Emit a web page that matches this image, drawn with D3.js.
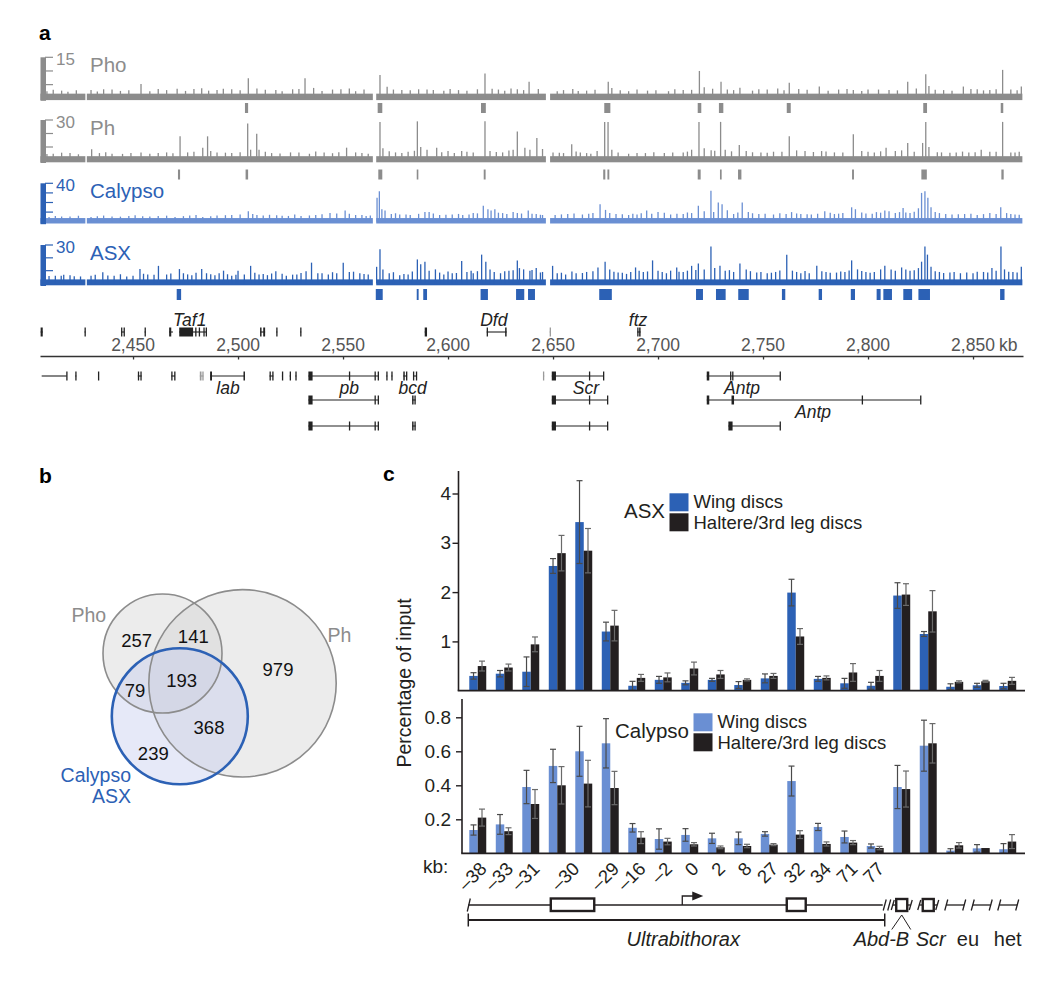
<!DOCTYPE html>
<html><head><meta charset="utf-8">
<script src="https://cdn.jsdelivr.net/npm/d3@7/dist/d3.min.js"></script>
<style>
body{margin:0;background:#fff}
svg{display:block}
text{font-family:"Liberation Sans",Arial,Helvetica,sans-serif}
</style></head>
<body><svg id="chart" width="1050" height="982"></svg>
<script>
// ---------------- DATA: panel a (ChIP tracks) ----------------
const trackNames = ['Pho', 'Ph', 'Calypso', 'ASX'];
const trackScaleMax = [15, 30, 40, 30];
const trackScaleStep = [5, 10, 10, 10];
const trackBackground = [1.7, 3.2, 3.8, 3.2];
const trackExtentKb = [2405.9, 2873.5];
const trackGapsKb = [[2427.3, 2428.0], [2564.2, 2565.8], [2646.6, 2648.6]];

const phoPeaks = [[2416,2.8],[2430,3],[2440,3.2],[2453.8,5.2],[2462,3.4],[2471,3.5],[2482.7,3.7],[2490,3],[2497,3.3],[2504.9,7.3],[2509,3.6],[2518,3],[2526,3.3],[2531.9,7.3],[2536,3.8],[2545,3.2],[2553,3.6],[2560,3.2],[2567.6,8.5],[2571,4.2],[2578,3],[2590,3.2],[2598,2.8],[2605,3],[2614,3.3],[2617.6,9.1],[2624,3.2],[2630,3.6],[2636,3],[2638.6,6.1],[2643,3.4],[2652,2.6],[2659.4,3.4],[2666,2.8],[2676.3,6.1],[2678,3.8],[2686,2.6],[2695,2.8],[2705,2.6],[2712,3],[2719.7,10],[2722,4],[2730,6.1],[2733,3.2],[2739,3.9],[2745,2.8],[2752,3.2],[2757,3.6],[2762.5,5.7],[2767,3.4],[2776.8,4.3],[2786,3.2],[2793,3],[2800,3.2],[2810,3],[2818.9,6.1],[2827.5,8.8],[2829,4.5],[2836,3],[2845.4,4.3],[2852,3.3],[2858,3],[2864.1,10.4],[2868,3.2],[2873,4.3]];
const phoMinorPeaks = [[2409,2.6],[2412,3.1],[2419,2.4],[2423,2.9],[2433,2.5],[2436,3.3],[2444,2.7],[2448,2.9],[2458,2.6],[2466,3],[2475,2.7],[2479,3.4],[2486,2.8],[2493,3.5],[2501,2.9],[2513,3.1],[2521,2.6],[2529,3.4],[2540,2.7],[2549,3.3],[2556,2.6],[2574,3.2],[2582,2.9],[2586,3.3],[2593,3],[2601,3.4],[2609,2.8],[2621,3.5],[2627,2.8],[2633,3.3],[2655,3],[2662,2.7],[2670,3.1],[2682,2.9],[2690,3.2],[2699,2.9],[2708,3.3],[2716,3.1],[2726,3.5],[2736,3],[2748,3.3],[2760,2.9],[2771,3.1],[2781,2.8],[2790,3.4],[2797,2.7],[2805,3.2],[2814,2.9],[2823,3.6],[2832,3.1],[2840,2.8],[2849,3.4],[2855,2.9],[2861,3.3],[2871,2.9]];
const phPeaks = [[2412,5],[2420,5.5],[2430.3,8.3],[2440,5],[2453.8,6],[2462,5.5],[2472.4,17.9],[2476,6],[2483.2,9.5],[2485.5,17.9],[2490,6],[2497,5.5],[2504.6,27.4],[2506,8],[2508.9,19.8],[2510,8],[2516,5.5],[2525,6],[2534,5],[2541,6],[2551.7,9.5],[2556,6],[2562,5],[2567.6,28.6],[2569,9],[2575,6],[2581,6.5],[2585.4,29],[2587,10],[2590,8],[2594.6,9.5],[2600,7],[2606.5,7.1],[2612,6],[2617.6,29],[2620,7],[2626,6],[2633,21.4],[2636.6,9.5],[2639,8],[2642.3,16.7],[2645,8.5],[2650,6],[2655,5.5],[2658.9,12],[2663,6],[2668,5],[2674.6,28.6],[2676.2,28.6],[2678,8],[2686,5],[2694,5.5],[2703,5.5],[2712,6],[2716,8],[2719.5,28.6],[2722,9],[2725.3,7.6],[2729.8,28.6],[2732,8],[2738.7,11.4],[2742,7],[2749,6],[2755,6.5],[2762.5,17.9],[2766,7.5],[2770,7],[2777.9,7],[2784,6],[2793,19.5],[2797,7],[2803,6],[2808.6,9.5],[2813,7],[2818.9,13],[2826,13],[2827.5,28.6],[2829,10],[2835,6],[2842,6],[2848,6],[2853.9,8],[2858,6.5],[2864.1,28.6],[2868,6],[2872,6.5]];
const phMinorPeaks = [[2409,4.8],[2416,5.8],[2424,4.6],[2434,5.5],[2437,6.2],[2445,4.9],[2449,5.6],[2458,5],[2466,6],[2469,5.4],[2479,6.5],[2487,7],[2494,5.8],[2501,6.1],[2513,6.4],[2520,5.2],[2529,5.9],[2537,6.6],[2545,5.4],[2548,6.2],[2559,5.5],[2572,6.8],[2578,5.6],[2584,7.2],[2597,6.2],[2603,5.6],[2609,6.4],[2623,6.3],[2629,7.5],[2631,8],[2653,5.7],[2661,6.6],[2666,5.5],[2671,7],[2681,6],[2690,5.5],[2698,6.2],[2707,5.9],[2714,6.6],[2727,7.3],[2735,6.8],[2745,6.1],[2752,5.7],[2759,6.5],[2774,6.3],[2780,6.6],[2788,6],[2800,6.4],[2806,6.8],[2816,7.5],[2822,6.5],[2833,6.1],[2839,5.7],[2845,6.6],[2851,6.2],[2861,6.4],[2870,6]];
const calypsoPeaks = [[2410,5],[2420,5.5],[2430,5],[2440,5.5],[2448,6],[2454.6,5.7],[2462,6],[2470,5],[2477,6.5],[2483.2,5],[2490,6.5],[2497,7],[2504.9,11],[2507,8],[2512,6.5],[2518.4,6.7],[2524,6],[2530,6],[2537,7],[2543.8,9],[2547,8.5],[2551,11.7],[2556,7],[2561,6],[2566.2,25],[2567.3,31.7],[2568.5,13],[2570,11.7],[2573,8],[2577,7.5],[2582,7],[2589,10],[2591,10],[2596,7],[2602,7.5],[2607,7],[2612,9],[2616.8,16.7],[2619,13],[2620.5,11.7],[2622.3,13],[2626,9],[2631,10],[2635,8.5],[2638.2,11.7],[2642,8],[2645,7],[2651,7],[2657,8],[2664,7.5],[2669,9],[2672.4,18.3],[2675,12.3],[2680,8],[2686,7],[2690,7.5],[2694.6,11.7],[2700,10],[2706,7.5],[2712,8],[2716,9],[2719.2,16.7],[2722,11],[2725.2,32.3],[2726.5,10],[2728.7,20],[2730.5,18.3],[2733,12],[2736,8],[2740.1,20],[2743,10],[2748,8],[2755,7.5],[2763.6,10],[2768,8],[2773,7.5],[2779.4,11],[2784,8],[2788,9],[2792.2,15],[2794,13],[2799,8.5],[2804,10],[2808,11.7],[2810,11],[2813,9],[2816.7,14.3],[2820,9],[2824,14],[2825.5,30],[2827.1,31.7],[2828.5,25],[2830,15],[2834,9],[2840,7.5],[2846,8],[2852,7],[2858,9],[2861,8],[2863.2,15],[2866,9],[2870,7.5]];
const calypsoMinorPeaks = [[2407,5.2],[2413,6],[2416,5.4],[2424,6.2],[2433,5.6],[2436,6.4],[2444,5.3],[2451,6.6],[2458,5.5],[2466,6.3],[2474,5.8],[2480,6.9],[2487,5.6],[2494,6.8],[2501,7.4],[2509,6.9],[2515,7.2],[2521,6.3],[2527,7.5],[2534,6.5],[2540,7.8],[2553,8.3],[2559,7],[2563,6.5],[2575,8.8],[2580,7.6],[2586,8.2],[2593,8.6],[2599,7.3],[2605,8.1],[2610,7.6],[2614,8.7],[2624,9.4],[2628,8],[2633,9],[2640,8.4],[2644,7.2],[2654,7.6],[2660,8.5],[2667,8.2],[2677,9.1],[2683,7.8],[2688,8.4],[2692,8.9],[2697,8.4],[2703,9.2],[2709,8.2],[2714,9.6],[2738,9.5],[2745,8.8],[2751,8.3],[2758,8.7],[2761,7.9],[2766,8.6],[2771,7.7],[2776,8.3],[2782,9.2],[2786,8.4],[2797,9.6],[2802,8.2],[2806,9.4],[2815,10],[2818,9.6],[2822,10.4],[2832,10],[2837,8.1],[2843,7.8],[2849,8.4],[2855,7.9],[2868,8.1],[2872,7.3]];
const asxPeaks = [[2408,5.5],[2413,6],[2415.8,6],[2420,6.5],[2425,5.5],[2430,6],[2435.6,8.75],[2441,6],[2447,5.5],[2453.3,11.25],[2457,7],[2462.1,13.75],[2466,7],[2472.1,11.25],[2474,8],[2478,6.5],[2482.7,11.25],[2485,8],[2489,6.5],[2493.1,10],[2497,6],[2500,10],[2503,7],[2506,13.75],[2510,7],[2514,6.5],[2518,9.5],[2523,6],[2528,7],[2532.4,9.5],[2535,16.25],[2538,8],[2543,7],[2547,8],[2550.1,16.25],[2553,9],[2558,8],[2562,7],[2566,13],[2567.6,26.75],[2569,11],[2572,8],[2577,6.5],[2581,7],[2585.4,18.75],[2587,15],[2589,17],[2591,10],[2594,11],[2598,7],[2602,8],[2606.5,17.5],[2609,9],[2612,8],[2616,22.5],[2618,17],[2620,11],[2625,8],[2629,10],[2633,18],[2636,11],[2639,10],[2642,12],[2645,9],[2649.8,13.75],[2652,8],[2656,7],[2661,8],[2666,9],[2671.4,12.5],[2674.8,17],[2677,11],[2681,8.5],[2685,7.5],[2689.3,12.5],[2693,9],[2697.4,18],[2700,10],[2704,8],[2708.9,12.5],[2712,9],[2716,13.75],[2719.2,15.5],[2722,11],[2725.2,28.75],[2727,12],[2729.5,13.75],[2732,10],[2736,9],[2739,15.5],[2742,11],[2747,8.5],[2752,8],[2756,9],[2761.3,22.5],[2764,10],[2768,8],[2772,8],[2775.6,13.75],[2780,9],[2785,8.5],[2789,9],[2792.2,18],[2795,11],[2799,9],[2803,9],[2808,13.75],[2811,11],[2816,12.5],[2820,10],[2824,12],[2825.5,17],[2827.1,28.75],[2828.3,22.5],[2830,13],[2834,9],[2839,8.5],[2844,8],[2850,8],[2855,9],[2859,12],[2863.3,28.75],[2865,11],[2869,9],[2873,13]];
const asxMinorPeaks = [[2410,5.8],[2417,6.9],[2422,5.6],[2432,6.8],[2438,6.3],[2444,7.2],[2450,6.1],[2455,7.6],[2460,6.8],[2468,7.8],[2476,7.1],[2480,8.4],[2487,7.3],[2491,8],[2495,7.2],[2499,6.8],[2508,8.3],[2512,7.4],[2516,7.8],[2521,7.6],[2526,6.9],[2530,8.2],[2540,7.9],[2545,8.8],[2555,9.2],[2560,7.4],[2574,8.8],[2579,7.5],[2583,9.4],[2596,8.5],[2600,9.3],[2604,8.2],[2611,10],[2614,9.6],[2622,9],[2627,9.6],[2631,10.4],[2634,12],[2640,10.6],[2644,8.6],[2654,8.4],[2659,9.4],[2664,8.2],[2669,9.6],[2679,9.2],[2683,8.4],[2687,9],[2691,10],[2695,9.4],[2702,9],[2706,10],[2710,9.2],[2714,10],[2718,10.6],[2734,10.4],[2744,9.6],[2749,9],[2754,8.4],[2758,10.2],[2766,9],[2770,9.8],[2778,9.6],[2782,8.4],[2787,9.4],[2791,10.2],[2797,9.8],[2801,8.4],[2806,11],[2813,10],[2818,11],[2822,10.4],[2832,9.6],[2836,8.2],[2841,9],[2847,8.6],[2852,9.2],[2857,8.6],[2861,10],[2867,9.2],[2871,8.6]];

const phoCalls = [[2503.3,2504.8],[2566.5,2568.7],[2615.7,2618],[2674.4,2677.3],[2718.9,2720.6],[2729,2731.1],[2761.3,2763.2],[2826.3,2828.1],[2863.2,2864.4]];
const phCalls = [[2471.4,2472.4],[2503.6,2504.8],[2566.8,2568.7],[2585.1,2585.6],[2617,2617.9],[2673.9,2674.9],[2675.9,2676.8],[2718.9,2720.3],[2729.5,2730.3],[2738.1,2739.7],[2792.4,2793.3],[2825.4,2828],[2863.5,2864.6]];
const asxCalls = [[2470.8,2472.9],[2565.6,2568.9],[2585.1,2586],[2588.2,2590],[2615.5,2619],[2632.4,2636.3],[2638.1,2641.4],[2672,2678],[2718.1,2721.4],[2727.6,2732.2],[2738.2,2743.2],[2759,2760.6],[2776.5,2778.1],[2791.8,2793.8],[2804.1,2806],[2807.3,2811.4],[2816.8,2821],[2824,2829.5],[2862.9,2865]];

const axisTicksKb = [2450, 2500, 2550, 2600, 2650, 2700, 2750, 2800, 2850];

// gene models: row 0 = above axis, rows 1-3 below
const genes = [
  {row:0, s:2406.0, e:2407.0, ex:[[2406.0,2407.0]]},
  {row:0, s:2426.9, e:2427.4, ex:[[2426.9,2427.4]]},
  {row:0, s:2444.3, e:2445.8, ex:[[2444.3,2444.6],[2445.5,2445.8]]},
  {row:0, s:2455.5, e:2456.1, ex:[[2455.5,2456.1]]},
  {row:0, s:2467.2, e:2469.0, ex:[[2467.2,2468.2]]},
  {row:0, s:2472.0, e:2485.0, ex:[[2472.0,2478.6],[2479.6,2480.1],[2481.3,2481.8],[2483.5,2484.0],[2484.6,2485.0]]},
  {row:0, s:2510.5, e:2512.9, ex:[[2510.5,2511.2],[2512.0,2512.9]]},
  {row:0, s:2518.2, e:2518.7, ex:[[2518.2,2518.7]]},
  {row:0, s:2529.6, e:2530.1, ex:[[2529.6,2530.1]]},
  {row:0, s:2588.9, e:2590.0, ex:[[2588.9,2590.0]]},
  {row:0, s:2618.4, e:2627.9, ex:[[2618.4,2619.0],[2627.2,2627.9]]},
  {row:0, s:2648.4, e:2648.8, ex:[[2648.4,2648.8]], grey:true},
  {row:0, s:2690.1, e:2691.7, ex:[[2690.1,2690.6],[2691.0,2691.7]]},
  {row:1, s:2406.5, e:2418.4, ex:[[2418.2,2418.5]]},
  {row:1, s:2422.5, e:2423.0, ex:[[2422.5,2423.0]]},
  {row:1, s:2433.3, e:2433.8, ex:[[2433.3,2433.8]]},
  {row:1, s:2452.3, e:2454.1, ex:[[2452.3,2452.8],[2453.5,2454.1]]},
  {row:1, s:2468.2, e:2470.0, ex:[[2468.2,2468.6],[2469.6,2470.0]]},
  {row:1, s:2481.8, e:2483.5, ex:[[2481.8,2482.6],[2483.0,2483.5]], grey:true},
  {row:1, s:2486.7, e:2503.3, ex:[[2486.7,2487.6],[2502.6,2503.3]]},
  {row:1, s:2515.0, e:2516.8, ex:[[2515.0,2515.5],[2516.3,2516.8]]},
  {row:1, s:2520.9, e:2521.4, ex:[[2520.9,2521.4]]},
  {row:1, s:2524.6, e:2525.1, ex:[[2524.6,2525.1]]},
  {row:1, s:2527.3, e:2527.8, ex:[[2527.3,2527.8]]},
  {row:1, s:2533.5, e:2566.8, ex:[[2533.5,2535.5],[2552.8,2553.1],[2565.0,2565.5],[2566.5,2566.8]]},
  {row:1, s:2570.6, e:2571.1, ex:[[2570.6,2571.1]]},
  {row:1, s:2573.0, e:2573.5, ex:[[2573.0,2573.5]]},
  {row:1, s:2578.7, e:2580.5, ex:[[2578.7,2579.4],[2580.0,2580.5]]},
  {row:1, s:2583.3, e:2585.1, ex:[[2583.3,2583.8],[2584.7,2585.1]]},
  {row:1, s:2645.2, e:2645.8, ex:[[2645.2,2645.8]], grey:true},
  {row:1, s:2649.4, e:2674.0, ex:[[2649.4,2651.4],[2667.1,2667.6],[2673.8,2674.0]]},
  {row:1, s:2723.2, e:2758.1, ex:[[2723.2,2724.4],[2734.3,2734.8],[2735.3,2735.9],[2757.9,2758.1]]},
  {row:2, s:2533.5, e:2566.8, ex:[[2533.5,2535.5],[2565.0,2565.5],[2566.5,2566.8]]},
  {row:2, s:2582.9, e:2584.6, ex:[[2582.9,2583.6],[2584.0,2584.6]]},
  {row:2, s:2649.4, e:2675.9, ex:[[2649.4,2651.4],[2667.1,2667.6],[2675.7,2675.9]]},
  {row:2, s:2723.2, e:2825.0, ex:[[2723.2,2724.4],[2735.0,2736.2],[2797.0,2797.2],[2824.8,2825.0]]},
  {row:3, s:2533.5, e:2566.8, ex:[[2533.5,2535.5],[2552.8,2553.1],[2565.0,2565.5],[2566.5,2566.8]]},
  {row:3, s:2582.9, e:2584.6, ex:[[2582.9,2583.6],[2584.0,2584.6]]},
  {row:3, s:2649.4, e:2675.9, ex:[[2649.4,2651.4],[2667.1,2667.6],[2675.7,2675.9]]},
  {row:3, s:2733.5, e:2758.1, ex:[[2733.5,2735.5],[2757.9,2758.1]]}
];
const geneLabels = [
  {name:'Taf1', row:0, kb:2477}, {name:'Dfd', row:0, kb:2621.8}, {name:'ftz', row:0, kb:2690.5},
  {name:'lab', row:1, kb:2495.2}, {name:'pb', row:1, kb:2553}, {name:'bcd', row:1, kb:2583.1},
  {name:'Scr', row:1, kb:2665.7}, {name:'Antp', row:1, kb:2740}, {name:'Antp', row:2, kb:2773.8}
];

// ---------------- DATA: panel b (Venn) ----------------
const vennSets = ['Pho', 'Ph', 'Calypso\nASX'];
const vennRegions = ['Pho only', 'Pho∩Ph', 'Ph only', 'Pho∩Cal/ASX', 'all three', 'Ph∩Cal/ASX', 'Cal/ASX only'];
const vennCounts = [257, 141, 979, 79, 193, 368, 239];

// ---------------- DATA: panel c (ChIP-qPCR) ----------------
const groups = ['u-38','u-33','u-31','u-30a','u-30b','u-29','u-16','u-2','u0','u2','u8','u27','u32','u34','u71','u77','Abd-B','Scr','eu1','eu2','het'];
const seriesNames = ['Wing discs', 'Haltere/3rd leg discs'];
const kbTickLabels = [['\u201338',[0]],['\u201333',[1]],['\u201331',[2]],['\u201330',[3,4]],['\u201329',[5]],['\u201316',[6]],['\u20132',[7]],['0',[8]],['2',[9]],['8',[10]],['27',[11]],['32',[12]],['34',[13]],['71',[14]],['77',[15]]];
const asxTicks = [1, 2, 3, 4];
const calypsoTicks = [0.2, 0.4, 0.6, 0.8];

const asxWing     = [0.30,0.345,0.385,2.53,3.42,1.20,0.10,0.22,0.16,0.22,0.115,0.25,1.99,0.24,0.15,0.10,1.93,1.15,0.08,0.11,0.095];
const asxWingErr  = [0.065,0.065,0.30,0.15,0.84,0.19,0.09,0.07,0.04,0.03,0.07,0.09,0.27,0.05,0.10,0.07,0.26,0.05,0.06,0.04,0.055];
const asxHalt     = [0.50,0.47,0.94,2.79,2.84,1.32,0.26,0.27,0.45,0.33,0.22,0.30,1.10,0.26,0.37,0.30,1.95,1.61,0.18,0.19,0.20];
const asxHaltErr  = [0.10,0.07,0.15,0.36,0.45,0.31,0.07,0.09,0.13,0.08,0.02,0.05,0.16,0.04,0.18,0.11,0.22,0.42,0.02,0.02,0.07];
const calWing     = [0.137,0.17,0.39,0.514,0.60,0.647,0.15,0.084,0.108,0.088,0.088,0.114,0.425,0.155,0.096,0.043,0.39,0.633,0.016,0.029,0.024];
const calWingErr  = [0.03,0.058,0.098,0.098,0.147,0.145,0.025,0.06,0.037,0.03,0.037,0.013,0.088,0.021,0.035,0.012,0.127,0.15,0.011,0.022,0.033];
const calHalt     = [0.21,0.13,0.29,0.40,0.41,0.384,0.092,0.069,0.053,0.035,0.043,0.051,0.11,0.055,0.063,0.031,0.378,0.647,0.047,0.031,0.069];
const calHaltErr  = [0.05,0.02,0.085,0.11,0.137,0.098,0.035,0.019,0.01,0.008,0.01,0.006,0.023,0.012,0.012,0.01,0.106,0.116,0.016,0,0.041];

// ---------------- DRAWING ----------------
const svg = d3.select('#chart');
const INK = '#231f20';
const GREY = '#8c8c8c';
const BLUE = '#2c61b5';
const LIGHTBLUE = '#6a8fd3';

function panelLetter(t, x, y) {
  svg.append('text').attr('x', x).attr('y', y).text(t)
    .attr('font-size', 21).attr('font-weight', 'bold').attr('fill', '#000');
}
panelLetter('a', 39, 40);
panelLetter('b', 39, 483);
panelLetter('c', 383, 481);

// ---- Panel a ----
const xKb = d3.scaleLinear().domain([2405.7, 2873.8]).range([40, 1023]);
const trackLayout = [
  {base:98.3, top:57.3, fill:GREY, bar:GREY, label:GREY, calls:[103,113]},
  {base:160.5, top:120, fill:GREY, bar:GREY, label:GREY, calls:[169.5,179.5]},
  {base:221.7, top:183.3, fill:LIGHTBLUE, bar:BLUE, label:BLUE, calls:null},
  {base:283.5, top:245, fill:BLUE, bar:BLUE, label:BLUE, calls:[289,300]}
];
const trackPeaks = [phoPeaks.concat(phoMinorPeaks), phPeaks.concat(phMinorPeaks),
  calypsoPeaks.concat(calypsoMinorPeaks), asxPeaks.concat(asxMinorPeaks)];
const trackCalls = [phoCalls, phCalls, null, asxCalls];

const segs = [];
{
  let s = trackExtentKb[0];
  trackGapsKb.forEach(g => { segs.push([s, g[0]]); s = g[1]; });
  segs.push([s, trackExtentKb[1]]);
}
const inGap = kb => trackGapsKb.some(g => kb >= g[0] && kb <= g[1]);

trackNames.forEach((name, i) => {
  const L = trackLayout[i];
  const y = d3.scaleLinear().domain([0, trackScaleMax[i]]).range([L.base, L.top]);
  const g = svg.append('g');
  g.selectAll('rect.band').data(segs).join('rect')
    .attr('x', d => xKb(d[0])).attr('width', d => xKb(d[1]) - xKb(d[0]))
    .attr('y', y(trackBackground[i])).attr('height', L.base - y(trackBackground[i]) + 1.8)
    .attr('fill', L.fill);
  g.selectAll('line.pk').data(trackPeaks[i].filter(d => !inGap(d[0]))).join('line')
    .attr('x1', d => xKb(d[0])).attr('x2', d => xKb(d[0]))
    .attr('y1', L.base).attr('y2', d => y(d[1]))
    .attr('stroke', L.fill).attr('stroke-width', 1.3);
  g.append('rect').attr('x', 40.5).attr('width', 5.5).attr('y', L.top)
    .attr('height', L.base - L.top + 2.5).attr('fill', L.bar);
  g.selectAll('line.tk').data(d3.range(trackScaleStep[i], trackScaleMax[i] + 0.001, trackScaleStep[i])).join('line')
    .attr('x1', 45).attr('x2', 53).attr('y1', d => y(d)).attr('y2', d => y(d))
    .attr('stroke', L.bar).attr('stroke-width', 1.2);
  g.append('text').attr('x', 56).attr('y', L.top + 8).text(trackScaleMax[i])
    .attr('font-size', 17).attr('fill', L.label);
  g.append('text').attr('x', 90).attr('y', L.top + 14.8).text(name)
    .attr('font-size', 20.5).attr('fill', L.label);
  if (trackCalls[i]) {
    g.selectAll('rect.call').data(trackCalls[i]).join('rect')
      .attr('x', d => xKb(d[0])).attr('width', d => Math.max(xKb(d[1]) - xKb(d[0]), 1.6))
      .attr('y', L.calls[0]).attr('height', L.calls[1] - L.calls[0]).attr('fill', L.bar);
  }
});

// genomic axis
const axisY = 356;
const axG = svg.append('g').attr('transform', `translate(0,${axisY})`)
  .call(d3.axisBottom(xKb).tickValues(axisTicksKb).tickSize(3.5).tickSizeOuter(0).tickFormat(''));
axG.select('.domain').attr('stroke', '#333').attr('stroke-width', 1.6);
axG.selectAll('.tick line').attr('stroke', '#333').attr('stroke-width', 1.3);
svg.selectAll('text.kbl').data(axisTicksKb).join('text')
  .attr('x', d => xKb(d)).attr('y', 351).attr('text-anchor', 'middle')
  .attr('font-size', 17.5).attr('fill', '#555').text(d3.format(','));
svg.append('text').attr('x', xKb(2850) + 26).attr('y', 351).text('kb')
  .attr('font-size', 17.5).attr('fill', '#555');

// genes
const geneRowY = [332, 376, 400, 426];
const gg = svg.append('g');
genes.forEach(gn => {
  const yy = geneRowY[gn.row];
  const col = gn.grey ? '#9a9a9a' : '#222';
  if (gn.e > gn.s) {
    gg.append('line').attr('x1', xKb(gn.s)).attr('x2', xKb(gn.e)).attr('y1', yy).attr('y2', yy)
      .attr('stroke', col).attr('stroke-width', 1.1);
  }
  gn.ex.forEach(ex => {
    const w = Math.max(xKb(ex[1]) - xKb(ex[0]), 1.3);
    gg.append('rect').attr('x', xKb(ex[0])).attr('width', w)
      .attr('y', yy - 4.5).attr('height', 9).attr('fill', col);
  });
});
geneLabels.forEach(l => {
  const yy = geneRowY[l.row];
  gg.append('text').attr('x', xKb(l.kb)).attr('y', l.row === 0 ? yy - 6 : yy + 17.5)
    .attr('text-anchor', 'middle').attr('font-size', 17.5).attr('font-style', 'italic')
    .attr('font-family', '"Liberation Mono","Courier New",monospace').attr('fill', '#222').text(l.name);
});

// ---- Panel b: Venn ----
const vennCircles = [
  {cx:242.5, cy:683.3, r:93.7, fill:'#d2d2d2', fo:0.42, stroke:GREY, sw:1.6},
  {cx:162.5, cy:653.5, r:59.5, fill:'#d2d2d2', fo:0.42, stroke:GREY, sw:1.6},
  {cx:179.8, cy:716.3, r:68, fill:'#c4cbee', fo:0.42, stroke:BLUE, sw:2.6}
];
const vg = svg.append('g');
vg.selectAll('circle.f').data(vennCircles).join('circle')
  .attr('cx', d => d.cx).attr('cy', d => d.cy).attr('r', d => d.r)
  .attr('fill', d => d.fill).attr('fill-opacity', d => d.fo).attr('stroke', 'none');
vg.selectAll('circle.s').data(vennCircles).join('circle')
  .attr('cx', d => d.cx).attr('cy', d => d.cy).attr('r', d => d.r)
  .attr('fill', 'none').attr('stroke', d => d.stroke).attr('stroke-width', d => d.sw);
const vennCountPos = [[136.7,646.5],[193.3,643],[278,675.5],[135,696.5],[181.7,686.5],[209,734],[153.3,759.5]];
vg.selectAll('text.cnt').data(vennCounts).join('text')
  .attr('x', (d, i) => vennCountPos[i][0]).attr('y', (d, i) => vennCountPos[i][1])
  .attr('text-anchor', 'middle').attr('font-size', 18.5).attr('fill', '#111').text(d => d);
vg.append('text').attr('x', 71.5).attr('y', 621.5).text(vennSets[0]).attr('font-size', 19.5).attr('fill', GREY);
vg.append('text').attr('x', 327.5).attr('y', 641.5).text(vennSets[1]).attr('font-size', 19.5).attr('fill', GREY);
vennSets[2].split('\n').forEach((t, i) => {
  vg.append('text').attr('x', 131).attr('y', 781.5 + i * 21).attr('text-anchor', 'end')
    .text(t).attr('font-size', 19.5).attr('fill', BLUE);
});

// ---- Panel c: bar charts ----
const xb = d3.scaleBand().domain(groups).range([462, 1023.5]).paddingInner(0.36).paddingOuter(0.275);
const xs = d3.scaleBand().domain(seriesNames).range([0, xb.bandwidth()]);

function barPanel(opts) {
  const y = d3.scaleLinear().domain([0, opts.ref]).range([opts.base, opts.refY]);
  const g = svg.append('g');
  const rows = groups.map((grp, i) => ({grp, vals:[opts.a[i], opts.b[i]], errs:[opts.ae[i], opts.be[i]]}));
  const colors = [opts.color, INK];
  rows.forEach(r => {
    seriesNames.forEach((s, j) => {
      const x0 = xb(r.grp) + xs(s);
      g.append('rect').attr('x', x0).attr('width', xs.bandwidth())
        .attr('y', y(r.vals[j])).attr('height', opts.base - y(r.vals[j])).attr('fill', colors[j]);
    });
  });
  rows.forEach(r => {
    seriesNames.forEach((s, j) => {
      if (!r.errs[j]) return;
      const cx = xb(r.grp) + xs(s) + xs.bandwidth() / 2;
      const lo = y(Math.max(r.vals[j] - r.errs[j], 0)), hi = y(r.vals[j] + r.errs[j]);
      const c = j === 0 ? '#4a4a4a' : '#6a6a6a';
      g.append('line').attr('x1', cx).attr('x2', cx).attr('y1', lo).attr('y2', hi).attr('stroke', c).attr('stroke-width', 1.2);
      [lo, hi].forEach(yy => g.append('line').attr('x1', cx - 3).attr('x2', cx + 3).attr('y1', yy).attr('y2', yy).attr('stroke', c).attr('stroke-width', 1.2));
    });
  });
  g.append('line').attr('x1', opts.axisX).attr('x2', opts.axisX).attr('y1', opts.base).attr('y2', opts.axisTop)
    .attr('stroke', INK).attr('stroke-width', 1.6);
  g.append('line').attr('x1', opts.axisX - 0.8).attr('x2', 1025).attr('y1', opts.base).attr('y2', opts.base)
    .attr('stroke', INK).attr('stroke-width', 1.8);
  const ax = g.append('g').attr('transform', `translate(${opts.axisX},0)`)
    .call(d3.axisLeft(y).tickValues(opts.ticks).tickSize(6).tickPadding(4).tickFormat(opts.fmt));
  ax.select('.domain').remove();
  ax.selectAll('.tick line').attr('stroke', INK).attr('stroke-width', 1.4);
  ax.selectAll('.tick text').attr('font-size', 19).attr('fill', INK)
    .attr('font-family', '"Liberation Sans",Arial,sans-serif').attr('x', 451 - opts.axisX);
  g.append('text').attr('x', opts.leg.labelX).attr('y', opts.leg.y + 25).attr('text-anchor', 'end')
    .attr('font-size', 20.5).attr('fill', INK).text(opts.name);
  seriesNames.forEach((s, j) => {
    g.append('rect').attr('x', opts.leg.x).attr('y', opts.leg.y + j * 20).attr('width', 19).attr('height', 18)
      .attr('fill', colors[j]);
    g.append('text').attr('x', opts.leg.x + 24).attr('y', opts.leg.y + 15 + j * 21)
      .attr('font-size', 18.5).attr('fill', INK).text(s);
  });
}
barPanel({name:'ASX', a:asxWing, ae:asxWingErr, b:asxHalt, be:asxHaltErr, color:BLUE,
  ref:4, base:690.7, refY:493.5, axisX:458.5, axisTop:471, ticks:asxTicks, fmt:d3.format('d'),
  leg:{x:669.5, y:493.3, labelX:665}});
barPanel({name:'Calypso', a:calWing, ae:calWingErr, b:calHalt, be:calHaltErr, color:LIGHTBLUE,
  ref:0.8, base:853.3, refY:717.3, axisX:462, axisTop:699, ticks:calypsoTicks, fmt:d3.format('.1f'),
  leg:{x:693.5, y:713.3, labelX:689}});

svg.append('text').attr('transform', 'translate(411,683) rotate(-90)').attr('text-anchor', 'middle')
  .attr('font-size', 19.5).attr('fill', INK).text('Percentage of input');

svg.append('text').attr('x', 423).attr('y', 873).attr('font-size', 19).attr('fill', INK).text('kb:');
kbTickLabels.forEach(([lab, idx]) => {
  const cx = d3.mean(idx, i => xb(groups[i]) + xb.bandwidth() / 2);
  svg.append('text').attr('transform', `translate(${cx + 10},870) rotate(-45)`)
    .attr('text-anchor', 'end').attr('font-size', 18.5).attr('fill', INK).text(lab);
});

// locus diagram under panel c
const dg = svg.append('g').attr('stroke', INK).attr('fill', 'none');
const lineY = 905, brY = 920;
const gStart = i => xb(groups[i]), gEnd = i => xb(groups[i]) + xb.bandwidth();
const slash = (x, yc, h) => dg.append('line').attr('x1', x - 1.5).attr('x2', x + 1.5).attr('y1', yc + h).attr('y2', yc - h).attr('stroke-width', 1.3);
dg.append('line').attr('x1', gStart(0) - 1).attr('x2', gEnd(15) - 1).attr('y1', lineY).attr('y2', lineY).attr('stroke-width', 1.3);
slash(gStart(0) - 0.5, lineY, 6.5);
slash(gEnd(15) + 1, lineY, 5.5);
slash(gEnd(15) + 5.5, lineY, 5.5);
dg.append('rect').attr('x', gStart(3) + 2).attr('width', gEnd(4) - gStart(3)).attr('y', lineY - 6.5).attr('height', 12.5)
  .attr('fill', '#fff').attr('stroke-width', 2.4);
dg.append('rect').attr('x', gStart(12) - 0.5).attr('width', gEnd(12) - gStart(12) + 2).attr('y', lineY - 6.5).attr('height', 12.5)
  .attr('fill', '#fff').attr('stroke-width', 2.4);
const ax0 = gStart(8) + 1;
dg.append('path').attr('d', `M${ax0},${lineY} V${lineY - 9} H${ax0 + 13}`).attr('stroke-width', 1.3);
dg.append('path').attr('d', `M${ax0 + 10},${lineY - 13.5} L${ax0 + 21},${lineY - 9} L${ax0 + 10},${lineY - 4.5} Z`)
  .attr('fill', INK).attr('stroke', 'none');
[16, 17].forEach(i => {
  const c = xb(groups[i]) + xb.bandwidth() / 2;
  dg.append('line').attr('x1', c - 9).attr('x2', c + 9).attr('y1', lineY).attr('y2', lineY).attr('stroke-width', 1.3);
  slash(c - 9, lineY, 5);
  slash(c + 9, lineY, 5);
  dg.append('rect').attr('x', c - 5.5).attr('width', 11).attr('y', lineY - 6).attr('height', 12)
    .attr('fill', '#fff').attr('stroke-width', 2.4);
});
[18, 19, 20].forEach(i => {
  const a = gStart(i), b = gEnd(i) + 1;
  dg.append('line').attr('x1', a).attr('x2', b).attr('y1', lineY).attr('y2', lineY).attr('stroke-width', 1.3);
  slash(a, lineY, 5.5);
  slash(b, lineY, 5.5);
});
dg.append('line').attr('x1', gStart(0) - 1).attr('x2', gEnd(15) + 1).attr('y1', brY).attr('y2', brY).attr('stroke-width', 2);
[gStart(0) - 1, gEnd(15) + 1].forEach(x => dg.append('line').attr('x1', x).attr('x2', x).attr('y1', brY - 6.5).attr('y2', brY + 6.5).attr('stroke-width', 1.5));
const cab = xb(groups[16]) + xb.bandwidth() / 2;
dg.append('path').attr('d', `M${cab - 10},929.5 L${cab},915 L${cab + 9},929.5`).attr('stroke-width', 1);

const lt = (t, x, anchor, italic) => svg.append('text').attr('x', x).attr('y', 946).attr('text-anchor', anchor)
  .attr('font-size', 20).attr('font-style', italic ? 'italic' : 'normal').attr('fill', INK).text(t);
lt('Ultrabithorax', xb(groups[8]) + 2, 'middle', true);
lt('Abd-B', gEnd(16) - 1, 'end', true);
lt('Scr', gStart(17) - 4, 'start', true);
lt('eu', (gStart(18) + gEnd(19)) / 2, 'middle', false);
lt('het', xb(groups[20]) + xb.bandwidth() / 2, 'middle', false);
</script></body></html>
